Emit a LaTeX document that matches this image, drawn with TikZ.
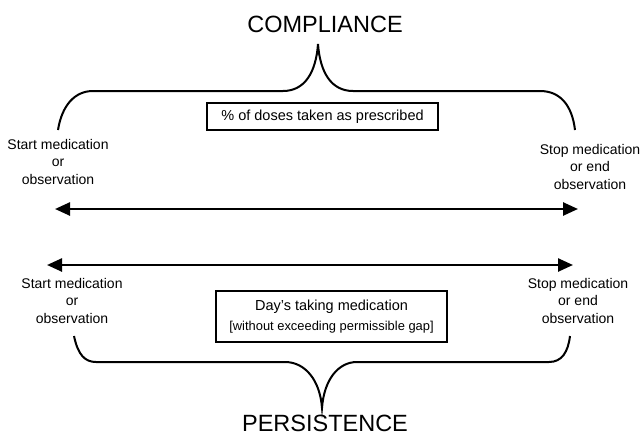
\documentclass[tikz,border=0pt]{standalone}
\usepackage{fontspec}
\setmainfont{Liberation Sans}
\usetikzlibrary{arrows.meta,positioning}

\begin{document}
\begin{tikzpicture}[x=1pt,y=-1pt,
    endlabel/.style={align=center,inner sep=0pt,anchor=base,font=\fontsize{14}{17.5}\selectfont},
    title/.style={inner sep=0pt,anchor=base,font=\fontsize{23.5}{28}\selectfont},
    measurebox/.style={draw,line width=2pt,align=center,inner sep=0pt,font=\fontsize{14.5}{17.5}\selectfont},
    brace/.style={line width=2pt},
    span/.style={line width=2.5pt,{Triangle[length=15pt,width=13pt]}-{Triangle[length=15pt,width=13pt]}}]
        \useasboundingbox (0,0) rectangle (642,436);
        \node[title] (compliance) at (325,33) {COMPLIANCE};
        \node[title] (persistence) at (325,431) {PERSISTENCE};
        \node[measurebox,minimum width=231pt,minimum height=27pt] (doses) at (322.5,116.5)
            {\% of doses taken as prescribed};
        \node[measurebox,minimum width=231pt,minimum height=51pt] (days) at (331.5,316.5)
            {Day’s taking medication\\[3pt]{\fontsize{12.9}{15}\selectfont[without exceeding permissible gap]}};
        \node[endlabel] (startC) at (58,184) {Start medication\\or\\observation};
        \node[endlabel] (stopC) at (590,189) {Stop medication\\or end\\observation};
        \node[endlabel] (startP) at (72,323) {Start medication\\or\\observation};
        \node[endlabel] (stopP) at (578,323) {Stop medication\\or end\\observation};
        \coordinate (c0) at (55,209);
        \coordinate (c1) at (578,209);
        \coordinate (p0) at (47,265);
        \coordinate (p1) at (573,265);
        \draw[span] (c0) -- (c1);
        \draw[span] (p0) -- (p1);
        \coordinate (ctip) at (318,44);
        \coordinate (ptip) at (322,408);
        \draw[brace] (58,130) .. controls (62,105) and (75,91) .. (93,91) -- (283,91)
            .. controls (305,91) and (316,72) .. (ctip)
            .. controls (320,72) and (331,91) .. (353,91) -- (540,91)
            .. controls (560,91) and (572,105) .. (575,130);
        \draw[brace] (74,336) .. controls (78,355) and (85,362) .. (96,362) -- (285,362)
            .. controls (305,362) and (320,380) .. (ptip)
            .. controls (324,380) and (338,362) .. (357,362) -- (549,362)
            .. controls (562,362) and (568,352) .. (570,336);
\end{tikzpicture}
\end{document}
